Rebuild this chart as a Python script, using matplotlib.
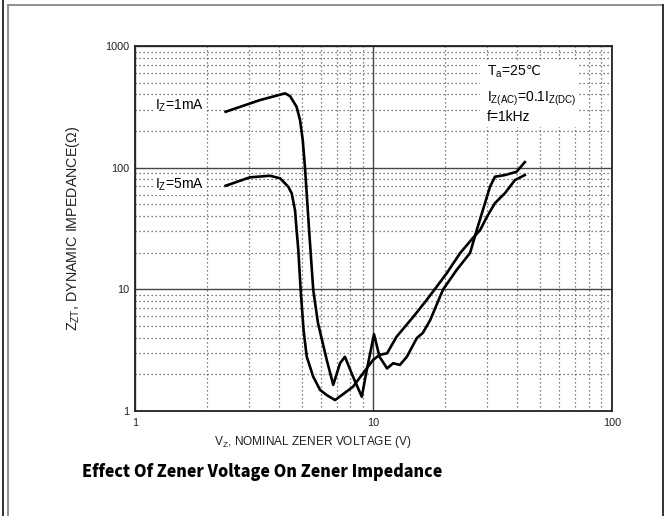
import matplotlib
matplotlib.use('Agg')
import matplotlib.pyplot as plt
from matplotlib.lines import Line2D
from matplotlib.patches import Rectangle
from matplotlib.ticker import FixedLocator, NullFormatter, FuncFormatter, LogLocator

plt.rcParams['font.family'] = ['Liberation Sans', 'DejaVu Sans']
plt.rcParams['mathtext.default'] = 'regular'

# Iz = 1mA curve (V, ohm)
v_1ma = [2.40, 3.34, 4.26, 4.47, 4.76, 4.92, 5.05, 5.16, 5.37, 5.59,
         5.85, 6.37, 6.78, 7.24, 7.59, 8.21, 8.93, 9.37, 10.05, 10.6,
         11.4, 12.1, 12.9, 13.8, 15.2, 16.1, 17.3, 19.0, 19.6, 22.3,
         25.4, 27.1, 30.8, 32.3, 35.6, 39.8, 43.1]
z_1ma = [288, 359, 408, 387, 316, 246, 169, 101, 30.7, 9.87,
         5.29, 2.62, 1.64, 2.47, 2.79, 1.91, 1.31, 2.17, 4.27, 2.79,
         2.24, 2.47, 2.39, 2.79, 3.98, 4.38, 5.60, 8.69, 10.0, 14.4,
         19.9, 30.7, 69.7, 84.2, 86.9, 92.5, 111]

# Iz = 5mA curve
v_5ma = [2.40, 3.03, 3.68, 4.06, 4.39, 4.54, 4.69, 4.76, 4.84, 4.95,
         5.09, 5.25, 5.59, 5.97, 6.37, 6.90, 8.20, 9.95, 10.6, 11.4,
         12.5, 14.7, 16.7, 18.4, 20.3, 23.1, 26.1, 28.0, 29.9, 32.3,
         35.6, 39.2, 43.1]
z_5ma = [71.0, 83.2, 85.8, 81.7, 69.7, 61.5, 44.4, 30.7, 21.0, 9.87,
         4.63, 2.79, 1.91, 1.49, 1.35, 1.23, 1.58, 2.62, 2.89, 2.98,
         4.08, 5.96, 8.17, 10.5, 13.6, 19.9, 26.4, 30.7, 39.5, 51.1,
         61.8, 79.1, 86.9]

x_ticks = [1, 10, 100]
y_ticks = [1, 10, 100, 1000]

fig = plt.figure(figsize=(6.65, 5.16), dpi=100)
ax = fig.add_axes([0.203, 0.2035, 0.7173, 0.7074])

ax.set_xscale('log')
ax.set_yscale('log')
ax.set_xlim(1, 100)
ax.set_ylim(1, 1000)

ax.xaxis.set_major_locator(FixedLocator(x_ticks))
ax.yaxis.set_major_locator(FixedLocator(y_ticks))
ax.xaxis.set_minor_locator(LogLocator(base=10, subs=range(2, 10)))
ax.yaxis.set_minor_locator(LogLocator(base=10, subs=range(2, 10)))
fmt = FuncFormatter(lambda v, p: '%d' % v)
ax.xaxis.set_major_formatter(fmt)
ax.yaxis.set_major_formatter(fmt)
ax.xaxis.set_minor_formatter(NullFormatter())
ax.yaxis.set_minor_formatter(NullFormatter())
ax.tick_params(which='both', length=0, labelsize=7.8, colors='#222222')
ax.tick_params(axis='x', pad=5)
ax.tick_params(axis='y', pad=4)

ax.grid(which='major', color='#444444', linewidth=1.0, linestyle='-')
ax.grid(which='minor', color='#555555', linewidth=0.9, linestyle=(0, (1, 2.2)))
ax.set_axisbelow(True)
for s in ax.spines.values():
    s.set_linewidth(1.3)
    s.set_color('#222222')

ax.plot(v_1ma, z_1ma, color='black', lw=1.9, solid_joinstyle='round', zorder=4)
ax.plot(v_5ma, z_5ma, color='black', lw=1.9, solid_joinstyle='round', zorder=4)

box = dict(facecolor='white', edgecolor='none', pad=1.5)
ax.text(1.21, 320, 'I$_Z$=1mA', fontsize=10, va='center', ha='left', bbox=box, zorder=3)
ax.text(1.21, 72, 'I$_Z$=5mA', fontsize=10, va='center', ha='left', bbox=box, zorder=3)

ax.add_patch(Rectangle((0.723, 0.778), 0.204, 0.178, transform=ax.transAxes,
                       facecolor='white', edgecolor='none', zorder=2))
ta = ax.text(29.8, 614, 'T$_a$=25', fontsize=10, va='center', ha='left', zorder=3)
ax.annotate('℃', xy=(1, 0.5), xycoords=ta, va='center', ha='left', fontsize=9.5,
            family=['DejaVu Sans'], zorder=3)
ax.text(29.8, 371, 'I$_{Z(AC)}$=0.1I$_{Z(DC)}$', fontsize=10, va='center', ha='left', zorder=3)
ax.text(29.8, 259, 'f=1kHz', fontsize=10, va='center', ha='left', zorder=3)

ax.set_ylabel("Z$_{ZT}$, DYNAMIC IMPEDANCE(Ω)", fontsize=10.3, labelpad=17, color='#222222')
fig.text(313 / 665, 1 - 441.7 / 516, "V$_Z$, NOMINAL ZENER VOLTAGE (V)", fontsize=8.6,
         ha='center', va='center', color='#222222')
fig.text(262 / 665, 1 - 471.7 / 516, "Effect Of Zener Voltage On Zener Impedance",
         fontsize=11.6, fontweight='heavy', family=['Noto Sans CJK JP', 'DejaVu Sans'],
         ha='center', va='center', color='black')

# page frame lines
fig.add_artist(Line2D([3 / 665, 3 / 665], [0, 1], transform=fig.transFigure, color='#222222', lw=1.3))
fig.add_artist(Line2D([8 / 665, 8 / 665], [0, 1 - 5 / 516], transform=fig.transFigure, color='#888888', lw=1.3))
fig.add_artist(Line2D([8 / 665, 662.5 / 665], [1 - 5 / 516, 1 - 5 / 516], transform=fig.transFigure, color='#888888', lw=1.3))
fig.add_artist(Line2D([662.5 / 665, 662.5 / 665], [0, 1 - 5 / 516], transform=fig.transFigure, color='#222222', lw=1.3))

fig.savefig('out.png', dpi=100)
